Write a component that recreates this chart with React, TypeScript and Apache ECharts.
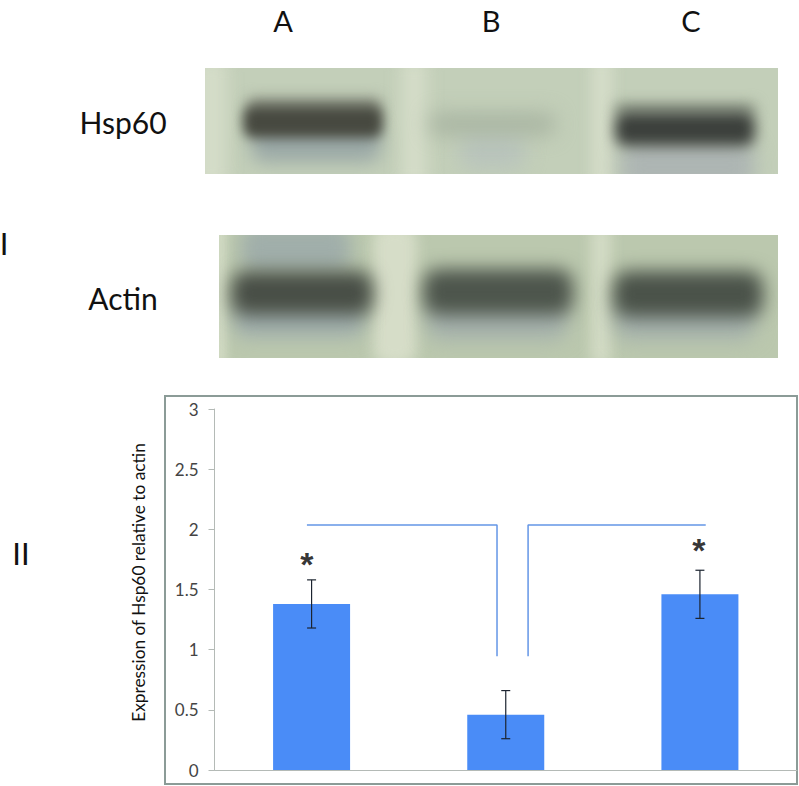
import React, { useEffect, useRef } from "react";
import * as echarts from "echarts";

const categories = ["A", "B", "C"];
const expression = [1.38, 0.46, 1.46];
const errors = [0.2, 0.2, 0.2];
const yTicks = ["0", "0.5", "1", "1.5", "2", "2.5", "3"];
const yTitle = "Expression of Hsp60 relative to actin";
const bracketLeft = [[-0.024, 2.035], [0.955, 2.035], [0.955, 0.945]];
const bracketRight = [[1.115, 0.945], [1.115, 2.035], [2.03, 2.035]];
const stars = [[-0.024, 1.66], [1.995, 1.78]];

type Blob = [number, number, number, number, string, number];

function blot(w: number, h: number, bg: string, blobs: Blob[]): string {
  const c = document.createElement("canvas");
  c.width = w;
  c.height = h;
  const ctx = c.getContext("2d") as CanvasRenderingContext2D;
  ctx.fillStyle = bg;
  ctx.fillRect(0, 0, w, h);
  for (const [x, y, bw, bh, col, blur] of blobs) {
    ctx.filter = `blur(${blur}px)`;
    ctx.fillStyle = col;
    ctx.beginPath();
    ctx.roundRect(x, y, bw, bh, Math.min(bw, bh) / 3);
    ctx.fill();
  }
  return c.toDataURL("image/png");
}

export default function App() {
  const ref = useRef<HTMLDivElement>(null);
  useEffect(() => {
    const chart = echarts.init(ref.current!, null, { renderer: "svg" });
    const hsp = blot(573, 106, "#c3cfb9", [
      [-10, -10, 32, 130, "#d4dcc8", 8],
      [196, -10, 26, 130, "#d4dcc8", 8],
      [386, -10, 22, 130, "#d4dcc8", 7],
      [46, 56, 130, 38, "#9aa8a6", 9],
      [255, 62, 65, 40, "#b9c4bc", 10],
      [415, 72, 135, 50, "#adb5b3", 10],
      [42, 30, 134, 16, "#858a7c", 7],
      [38, 38, 140, 32, "#474940", 6],
      [225, 45, 125, 22, "#a9b5a2", 10],
      [410, 36, 140, 10, "#7f8879", 7],
      [410, 44, 140, 34, "#3c403c", 7],
    ]);
    const act = blot(559, 123, "#bbc8ae", [
      [-8, -10, 16, 140, "#d0d9c2", 5],
      [154, -10, 44, 140, "#d6ddc8", 7],
      [372, -10, 20, 140, "#d4dcc6", 7],
      [22, -10, 110, 46, "#a0aeaa", 9],
      [15, 66, 130, 36, "#9fadab", 9],
      [208, 66, 140, 38, "#a3afab", 10],
      [396, 66, 140, 38, "#a3afab", 10],
      [12, 36, 142, 44, "#484e46", 9],
      [204, 34, 150, 46, "#4d554c", 9],
      [394, 36, 150, 46, "#4a5249", 9],
    ]);
    const label = (text: string, x: number, y: number, fontSize: number) => ({
      type: "text",
      x,
      y,
      silent: true,
      style: { text, fontSize, fontFamily: "Lato", fill: "#111", textAlign: "center", textVerticalAlign: "middle" },
    });
    chart.setOption({
      animation: false,
      backgroundColor: "#fff",
      grid: { left: 214.5, right: 2, top: 409, bottom: 16, containLabel: false },
      xAxis: [
        { type: "category", data: categories, axisTick: { show: false }, axisLabel: { show: false }, axisLine: { lineStyle: { color: "#b4bab6", width: 1 } } },
        { type: "value", show: false, min: -0.5, max: 2.5 },
      ],
      yAxis: {
        type: "value",
        min: 0,
        max: 3,
        interval: 0.5,
        splitLine: { show: false },
        axisLine: { show: true, onZero: false, lineStyle: { color: "#b4bab6", width: 1 } },
        axisTick: { show: true, length: 6, lineStyle: { color: "#b4bab6" } },
        axisLabel: {
          fontFamily: "Lato",
          fontSize: 17,
          color: "#444444",
          margin: 16,
          formatter: (v: number) => yTicks[Math.round(v * 2)],
        },
        name: yTitle,
        nameLocation: "middle",
        nameGap: 68,
        nameRotate: 90,
        nameTextStyle: { fontFamily: "Lato", fontSize: 17.3, color: "#111", padding: [0, 0, 0, 14] },
      },
      series: [
        { type: "bar", data: expression, barWidth: 77, itemStyle: { color: "#4a8cf7" }, z: 2 },
        {
          type: "custom",
          data: expression.map((v, i) => [i, v - errors[i], v + errors[i]]),
          encode: { x: 0, y: [1, 2] },
          z: 3,
          renderItem: (_: unknown, api: any) => {
            const lo = api.coord([api.value(0), api.value(1)]);
            const hi = api.coord([api.value(0), api.value(2)]);
            const st = { stroke: "#1c2430", lineWidth: 1.2 };
            const seg = (a: number, b: number, c: number, d: number) => ({ type: "line", shape: { x1: a, y1: b, x2: c, y2: d }, style: st });
            return {
              type: "group",
              children: [seg(lo[0], lo[1], hi[0], hi[1]), seg(lo[0] - 4.5, lo[1], lo[0] + 4.5, lo[1]), seg(hi[0] - 4.5, hi[1], hi[0] + 4.5, hi[1])],
            };
          },
        },
        { type: "line", xAxisIndex: 1, data: bracketLeft, symbol: "none", lineStyle: { color: "#6496e6", width: 1.5 }, z: 4 },
        { type: "line", xAxisIndex: 1, data: bracketRight, symbol: "none", lineStyle: { color: "#6496e6", width: 1.5 }, z: 4 },
        {
          type: "scatter",
          xAxisIndex: 1,
          data: stars,
          symbolSize: 0,
          label: { show: true, position: "inside", formatter: "*", fontFamily: "Liberation Sans", fontWeight: "bold", fontSize: 34, color: "#000", offset: [0, -6] },
          z: 5,
        },
      ],
      graphic: [
        { type: "image", x: 205, y: 68, z: -1, silent: true, style: { image: hsp, width: 573, height: 106 } },
        { type: "image", x: 219, y: 235, z: -1, silent: true, style: { image: act, width: 559, height: 123 } },
        { type: "rect", z: -1, silent: true, shape: { x: 165, y: 396, width: 632, height: 388 }, style: { fill: "none", stroke: "#8b9b97", lineWidth: 2 } },
        label("A", 283, 20, 29),
        label("B", 491, 20, 29),
        label("C", 691, 20, 29),
        label("Hsp60", 123, 122, 30),
        label("Actin", 123, 298, 30),
        label("I", 4, 243, 31),
        label("II", 21, 553, 31),
      ],
    });
    return () => chart.dispose();
  }, []);
  return <div ref={ref} style={{ position: "fixed", left: 0, top: 0, width: 799, height: 786 }} />;
}
